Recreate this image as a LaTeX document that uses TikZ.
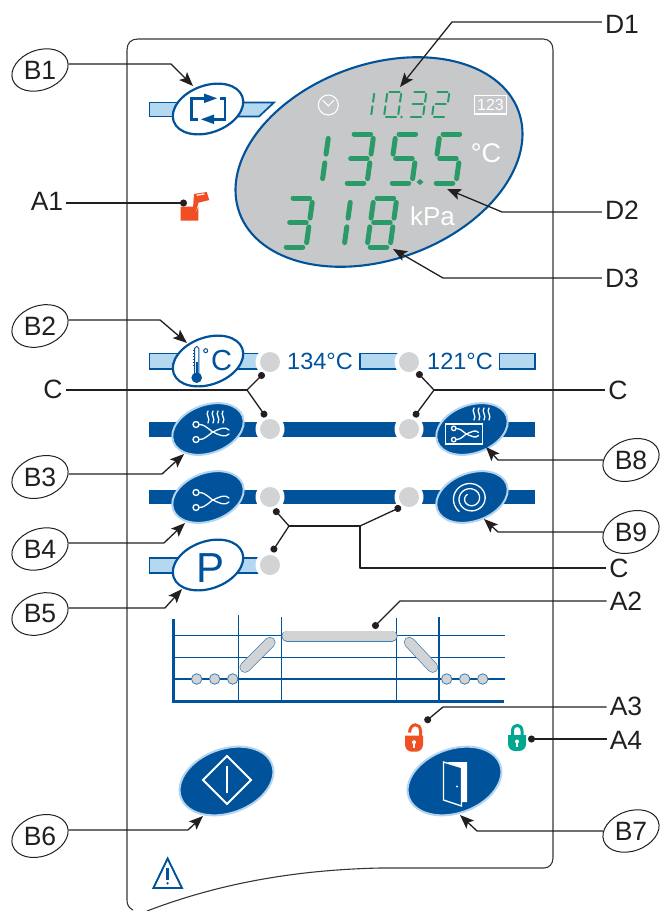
\documentclass[tikz,border=0pt]{standalone}
\usepackage{fontspec}
\setmainfont{Liberation Sans}
\usetikzlibrary{arrows.meta,shapes.geometric}
\definecolor{panelblue}{HTML}{00529B}
\definecolor{barblue}{HTML}{B5D8F1}
\definecolor{haloblue}{HTML}{B3D4EF}
\definecolor{ledgrey}{HTML}{D1D3D4}
\definecolor{screengrey}{HTML}{C7C8CA}
\definecolor{seggreen}{HTML}{2A9A68}
\definecolor{inkblack}{HTML}{231F20}
\definecolor{lockred}{HTML}{F04E23}
\definecolor{lockgreen}{HTML}{00A88F}
\tikzstyle{tagbox}=[ellipse,draw=inkblack,line width=1pt,rotate=20,
                    minimum width=58pt,minimum height=39pt,inner sep=0pt,
                    font=\fontsize{26.5}{26.5}\selectfont,text=inkblack]
\tikzstyle{callname}=[inner sep=3pt,font=\fontsize{26.5}{26.5}\selectfont,text=inkblack]
\tikzstyle{callarrow}=[draw=inkblack,line width=1.3pt,line join=round,
                       -{Stealth[length=14pt,width=11pt,inset=3pt]}]
\tikzstyle{calldot}=[draw=inkblack,line width=1.3pt,line join=round,
                     -{Circle[length=7pt]}]
\tikzstyle{callline}=[draw=inkblack,line width=1.3pt,line join=round]
\tikzstyle{lamp}=[circle,fill=ledgrey,inner sep=0pt,minimum size=20pt]
\tikzstyle{lampbar}=[draw=panelblue,fill=barblue,line width=1.7pt]
\tikzstyle{solidbar}=[fill=panelblue]
\tikzstyle{whitebtn}=[ellipse,draw=panelblue,fill=white,line width=2.2pt,rotate=20,
                      minimum width=73pt,minimum height=47pt,inner sep=0pt]
\tikzstyle{bluebtn}=[ellipse,draw=haloblue,fill=panelblue,line width=2pt,rotate=20,
                     minimum width=74pt,minimum height=48pt,inner sep=0pt]
\tikzstyle{bigbtn}=[bluebtn,minimum width=97pt,minimum height=64pt]
\tikzstyle{iconline}=[draw=white,line width=1.3pt,line cap=round]
\tikzstyle{tracka}=[draw=panelblue,line width=1.5pt]
\tikzstyle{stepdot}=[circle,draw=panelblue!75,fill=ledgrey,line width=0.8pt,
                     inner sep=0pt,minimum size=10.5pt]
\tikzstyle{bluetext}=[text=panelblue,inner sep=0pt,font=\fontsize{23.5}{23.5}\selectfont]
\tikzstyle{whitetext}=[text=white,inner sep=0pt]
\newcommand{\tagtext}[1]{\rotatebox{-20}{#1}}
\newcommand{\sgA}{\draw (0.14,1) -- (0.86,1);}
\newcommand{\sgB}{\draw (1,0.91) -- (1,0.59);}
\newcommand{\sgC}{\draw (1,0.41) -- (1,0.09);}
\newcommand{\sgD}{\draw (0.14,0) -- (0.86,0);}
\newcommand{\sgE}{\draw (0,0.09) -- (0,0.41);}
\newcommand{\sgF}{\draw (0,0.59) -- (0,0.91);}
\newcommand{\sgG}{\draw (0.14,0.5) -- (0.86,0.5);}
\newcommand{\bigdigit}[3]{\begin{scope}[shift={(#1,#2)},x=23pt,y=49pt,xslant=0.14,
    draw=seggreen,line width=5pt,line cap=round] #3 \end{scope}}
\newcommand{\smalldigit}[3]{\begin{scope}[shift={(#1,#2)},x=14pt,y=25pt,xslant=0.14,
    draw=seggreen,line width=2pt,line cap=round] #3 \end{scope}}
\newcommand{\flowicon}[3]{\begin{scope}[shift={(#1,#2)},scale=#3]
    \draw[iconline] (-19,-7.5) circle (3);
    \draw[iconline] (-19,7.5) circle (3);
    \draw[iconline] (-16,-7.5) .. controls (-8,-7.5) and (-5,0) .. (1,1.5)
                    .. controls (5,3) and (10,6) .. (14,2);
    \draw[iconline] (-16,7.5) .. controls (-8,7.5) and (-5,0) .. (1,-1.5)
                    .. controls (5,-3) and (10,-6) .. (14,-2);
  \end{scope}}
\newcommand{\heatwaves}[2]{\begin{scope}[shift={(#1,#2)}]
    \foreach \k in {0,1,2,3}
      \draw[iconline] (\k*5,0) .. controls (\k*5-3,4) and (\k*5+3,7) .. (\k*5,12);
  \end{scope}}
\newcommand{\lockbody}[3]{\begin{scope}[shift={(#1,#2)}]
    \fill[#3] (0,0) -- (18,0) [rounded corners=7pt] -- (18,16) -- (0,16) [sharp corners] -- cycle;
    \fill[white] (9,6.5) circle (2);
    \fill[white] (8.1,6.5) rectangle (9.9,12);
  \end{scope}}

\begin{document}
\begin{tikzpicture}[x=1pt,y=-1pt]
    \useasboundingbox (0,0) rectangle (669,911);
    \draw[inkblack!90,line width=1.1pt] (133,910) .. controls (129,908) and (127,905) .. (127,900)
        -- (127,50) .. controls (127,43) and (131,39) .. (138,39) -- (543,39)
        .. controls (549,39) and (553,43) .. (553,50) -- (553,858)
        .. controls (553,864) and (549,868) .. (544,868) -- (380,868)
        .. controls (290,870) and (215,885) .. (147,911);

    \draw[lampbar] (149.5,102.5) rectangle (190,116.5);
    \draw[lampbar] (230,102.5) -- (274,102.5) -- (259,116.5) -- (230,116.5) -- cycle;
    \draw[lampbar] (149.5,353.5) rectangle (270,369);
    \draw[lampbar] (360,353.5) rectangle (409,369);
    \draw[lampbar] (499.5,353.5) rectangle (535,369);
    \fill[solidbar] (149,422) rectangle (535,437);
    \fill[solidbar] (149,490) rectangle (535,504);
    \draw[lampbar] (149.5,558) rectangle (270,573);

    \foreach \lampname/\lx/\ly in {lampa/270/362,lampb/409/362,lampc/270/429,lampd/409/429,
                                   lampe/270/497,lampf/409/497,lampg/270/565}{
      \fill[white] (\lx,\ly) circle (14.5);
      \node (\lampname) at (\lx,\ly) [lamp]{};
    }

    \node (btnB1) at (208,109) [whitebtn]{};
    \node (btnB2) at (208,361) [whitebtn]{};
    \node (btnB3) at (208,429) [bluebtn]{};
    \node (btnB4) at (208,497) [bluebtn]{};
    \node (btnB5) at (208,565) [whitebtn]{};
    \node (btnB6) at (226.5,781) [bigbtn]{};
    \node (btnB7) at (454.5,781) [bigbtn]{};
    \node (btnB8) at (472,429) [bluebtn]{};
    \node (btnB9) at (472,497) [bluebtn]{};

    \draw[panelblue,line width=2.7pt] (198,119.3) -| (191.7,98.3) -- (205,98.3);
    \draw[panelblue,line width=2.7pt] (220,98.3) -| (225,119.3) -- (213,119.3);
    \fill[panelblue] (217,98.3) -- (204,93.5) -- (204,103.1) -- cycle;
    \fill[panelblue] (201,119.3) -- (214,114.5) -- (214,124.1) -- cycle;

    \draw[panelblue,line width=0.9pt,fill=white,rounded corners=1.8pt] (194.6,375) rectangle (198.8,346.5);
    \fill[panelblue] (195.6,362) rectangle (197.8,376);
    \fill[panelblue] (196.7,377.7) circle (5.3);
    \foreach \ty in {350,353,356,359,362,365}
      \draw[panelblue,line width=0.6pt] (192.6,\ty) -- (194.6,\ty);
    \draw[panelblue,line width=1pt] (205.7,350.7) circle (2);
    \node (txtTempC) at (221.5,361) [text=panelblue,inner sep=0pt,font=\fontsize{29}{29}\selectfont]{C};
    \node (txtP) at (211,568) [text=panelblue,inner sep=0pt,font=\fontsize{42}{42}\selectfont]{P};

    \flowicon{215}{432}{1}
    \heatwaves{208}{411}
    \flowicon{215}{500}{1}
    \draw[iconline] (445.7,424) rectangle (482.3,444);
    \flowicon{468}{434}{0.75}
    \heatwaves{474}{408}
    \draw[iconline,domain=0:820,samples=90,smooth,variable=\t]
        plot ({470.7+(18-0.0155*\t)*cos(\t+130)},{498.5+(17-0.0145*\t)*sin(\t+130)});

    \draw[white,line width=2pt,line join=miter] (227,756) -- (251,780) -- (227,804) -- (203,780) -- cycle;
    \draw[white,line width=2pt] (227,766) -- (227,793);
    \fill[white] (447,762) -- (467,762) -- (467,802) -- (462,802) -- (462,768) -- cycle;
    \draw[white,line width=1.3pt,line join=miter,fill=panelblue] (443.5,762) -- (461.5,767.5) -- (461.5,806) -- (443.5,800) -- cycle;
    \fill[white] (457,786.5) circle (1.1);

    \draw[tracka] (173,635.7) -- (504.6,635.7);
    \draw[tracka] (173,657.3) -- (504.6,657.3);
    \draw[tracka] (173,679) -- (504.6,679);
    \draw[tracka] (238.3,615) -- (238.3,700);
    \draw[tracka] (281.7,617) -- (281.7,700);
    \draw[tracka] (396.7,618) -- (396.7,700);
    \draw[tracka] (439,617) -- (439,700);
    \draw[panelblue,line width=2.8pt] (173.3,619) -- (173.3,701.3) -- (504,701.3);
    \foreach \ax/\ay/\bx/\by in {287/636/392/636,245/667.3/270/642.3,409.3/642.3/432.7/667.3}{
      \draw[panelblue!75,line width=11pt,line cap=round] (\ax,\ay) -- (\bx,\by);
      \draw[ledgrey,line width=9.6pt,line cap=round] (\ax,\ay) -- (\bx,\by);
    }
    \node (stepa) at (196.7,679) [stepdot]{};
    \node (stepb) at (214.7,679) [stepdot]{};
    \node (stepc) at (232.7,679) [stepdot]{};
    \node (stepd) at (446.7,679) [stepdot]{};
    \node (stepe) at (464.7,679) [stepdot]{};
    \node (stepf) at (482.7,679) [stepdot]{};

    \node (screen) at (379,162) [ellipse,draw=panelblue,fill=screengrey,line width=2.1pt,rotate=20,
                                 minimum width=297pt,minimum height=195pt,inner sep=0pt]{};
    \draw[white,line width=1.1pt] (328.3,105) circle (10);
    \draw[white,line width=1pt] (322.5,100) -- (328.3,106) -- (334,100);
    \draw[white,line width=1.1pt] (474.3,95.7) rectangle (506.7,114);
    \node (txtMode) at (490.5,105) [whitetext,font=\fontsize{16}{16}\selectfont]{123};
    \node (txtDegC) at (486,153) [whitetext,font=\fontsize{27}{27}\selectfont]{°C};
    \node (txtKpa) at (432.5,216) [whitetext,font=\fontsize{26}{26}\selectfont]{kPa};

    \smalldigit{357}{116.5}{\sgB\sgC}
    \smalldigit{384}{116.5}{\sgA\sgB\sgC\sgD\sgE\sgF}
    \smalldigit{409}{116.5}{\sgA\sgB\sgC\sgD\sgG}
    \smalldigit{432}{116.5}{\sgA\sgB\sgD\sgE\sgG}
    \fill[seggreen] (401.5,117) circle (1.3);
    \bigdigit{299}{183}{\sgB\sgC}
    \bigdigit{344}{183}{\sgA\sgB\sgC\sgD\sgG}
    \bigdigit{389}{183}{\sgA\sgC\sgD\sgF\sgG}
    \bigdigit{433}{183}{\sgA\sgC\sgD\sgF\sgG}
    \fill[seggreen] (420,179) -- (423.5,182) -- (420,185) -- (416.5,182) -- cycle;
    \bigdigit{283}{247}{\sgA\sgB\sgC\sgD\sgG}
    \bigdigit{321}{247}{\sgB\sgC}
    \bigdigit{367}{247}{\sgA\sgB\sgC\sgD\sgE\sgF\sgG}

    \fill[lockred] (180.5,206.7) -- (193,206.7) -- (196,212) -- (198.3,206.7) -- (198.3,220.7) -- (180.5,220.7) -- cycle;
    \fill[lockred] (194,194) -- (206.7,192) -- (209.3,200) -- (198.5,202.7) -- (196,212) -- (193,208) -- cycle;
    \fill[white] (196.5,194.7) -- (204,193.4) -- (204.5,194.5) -- (197,195.8) -- cycle;

    \draw[lockred,line width=3pt] (420.5,737) -- (420.5,731) .. controls (420.5,722.5) and (410,722.5) .. (409.5,732.5);
    \lockbody{405}{735.7}{lockred}
    \draw[lockgreen,line width=3pt] (512.5,737) -- (512.5,731) .. controls (512.5,723.4) and (522,723.4) .. (522,731) -- (522,737);
    \lockbody{508}{735}{lockgreen}

    \draw[panelblue,line width=1.9pt,line join=miter] (167.6,858.5) -- (182,888) -- (153.4,888) -- cycle;
    \draw[panelblue,line width=2.3pt] (167.6,868) -- (167.6,879.5);
    \fill[panelblue] (167.6,883.3) circle (1.3);

    \node (txtC134) at (287,361) [bluetext,anchor=west]{134°C};
    \node (txtC121) at (427,361) [bluetext,anchor=west]{121°C};

    \node (tagB1) at (40,70) [tagbox]{\tagtext{B1}};
    \node (tagB2) at (40,326) [tagbox]{\tagtext{B2}};
    \node (tagB3) at (40,477) [tagbox]{\tagtext{B3}};
    \node (tagB4) at (40,549) [tagbox]{\tagtext{B4}};
    \node (tagB5) at (40,614) [tagbox]{\tagtext{B5}};
    \node (tagB6) at (40,836) [tagbox]{\tagtext{B6}};
    \node (tagB7) at (631,831) [tagbox]{\tagtext{B7}};
    \node (tagB8) at (631,460) [tagbox]{\tagtext{B8}};
    \node (tagB9) at (631,532) [tagbox]{\tagtext{B9}};
    \node (labA1) at (47,201) [callname]{A1};
    \node (labA2) at (626,601) [callname]{A2};
    \node (labA3) at (626,706) [callname]{A3};
    \node (labA4) at (626,740) [callname]{A4};
    \node (labCa) at (53,389) [callname]{C};
    \node (labCb) at (618,390) [callname]{C};
    \node (labCc) at (619,568) [callname]{C};
    \node (labD1) at (622,24) [callname]{D1};
    \node (labD2) at (622,210) [callname]{D2};
    \node (labD3) at (622,278) [callname]{D3};

    \coordinate (bendB1) at (171,64);
    \coordinate (tipB1) at (193,86);
    \coordinate (bendB2) at (160,318);
    \coordinate (tipB2) at (187,343);
    \coordinate (bendB3) at (162,475);
    \coordinate (tipB3) at (184,454);
    \coordinate (bendB4) at (164,543);
    \coordinate (tipB4) at (185,523);
    \coordinate (bendB5) at (165,608);
    \coordinate (tipB5) at (182,589);
    \coordinate (bendB6) at (188,831);
    \coordinate (tipB6) at (203,816);
    \coordinate (bendB7) at (477,831);
    \coordinate (tipB7) at (460,815);
    \coordinate (bendB8) at (498,460);
    \coordinate (tipB8) at (486,447);
    \coordinate (bendB9) at (498,533);
    \coordinate (tipB9) at (484,519);
    \coordinate (bendD1) at (452,22);
    \coordinate (tipD1) at (400,87);
    \coordinate (bendD2) at (502,212);
    \coordinate (tipD2) at (447,189);
    \coordinate (bendD3) at (443,278);
    \coordinate (tipD3) at (393,249);
    \coordinate (dotA1) at (187,203);
    \coordinate (bendA2) at (400,601);
    \coordinate (dotA2) at (373,628);
    \coordinate (bendA3) at (443,707);
    \coordinate (dotA3) at (425,722);
    \coordinate (dotA4) at (528,739);
    \coordinate (joinCa) at (247,390);
    \coordinate (joinCb) at (434,390);
    \coordinate (joinCc) at (360,568);
    \coordinate (joinCd) at (360,526);
    \coordinate (joinCe) at (289,526);
    \coordinate (dotCa) at (264,373);
    \coordinate (dotCb) at (266,417);
    \coordinate (dotCc) at (417,372);
    \coordinate (dotCd) at (414,417);
    \coordinate (dotCe) at (274,509);
    \coordinate (dotCf) at (272,552);
    \coordinate (dotCg) at (401,507);

    \draw[callarrow] (tagB1.-8) -- (tagB1.-8 -| bendB1) -- (tipB1);
    \draw[callarrow] (tagB2.-8) -- (tagB2.-8 -| bendB2) -- (tipB2);
    \draw[callarrow] (tagB3.-14) -- (tagB3.-14 -| bendB3) -- (tipB3);
    \draw[callarrow] (tagB4.-8) -- (tagB4.-8 -| bendB4) -- (tipB4);
    \draw[callarrow] (tagB5.-8) -- (tagB5.-8 -| bendB5) -- (tipB5);
    \draw[callarrow] (tagB6.-8) -- (tagB6.-8 -| bendB6) -- (tipB6);
    \draw[callarrow] (tagB7.160) -- (tagB7.160 -| bendB7) -- (tipB7);
    \draw[callarrow] (tagB8.160) -- (tagB8.160 -| bendB8) -- (tipB8);
    \draw[callarrow] (tagB9.160) -- (tagB9.160 -| bendB9) -- (tipB9);
    \draw[callarrow] (labD1.west |- bendD1) -- (bendD1) -- (tipD1);
    \draw[callarrow] (labD2.west |- bendD2) -- (bendD2) -- (tipD2);
    \draw[callarrow] (labD3.west |- bendD3) -- (bendD3) -- (tipD3);
    \draw[calldot] (labA1.east |- dotA1) -- (dotA1);
    \draw[calldot] (labA2.west |- bendA2) -- (bendA2) -- (dotA2);
    \draw[calldot] (labA3.west |- bendA3) -- (bendA3) -- (dotA3);
    \draw[calldot] (labA4.west |- dotA4) -- (dotA4);
    \draw[callline] (labCa.east |- joinCa) -- (joinCa);
    \draw[calldot] (joinCa) -- (dotCa);
    \draw[calldot] (joinCa) -- (dotCb);
    \draw[callline] (labCb.west |- joinCb) -- (joinCb);
    \draw[calldot] (joinCb) -- (dotCc);
    \draw[calldot] (joinCb) -- (dotCd);
    \draw[callline] (labCc.west |- joinCc) -- (joinCc) -- (joinCd) -- (joinCe);
    \draw[calldot] (joinCe) -- (dotCe);
    \draw[calldot] (joinCe) -- (dotCf);
    \draw[calldot] (joinCd) -- (dotCg);
\end{tikzpicture}
\end{document}
